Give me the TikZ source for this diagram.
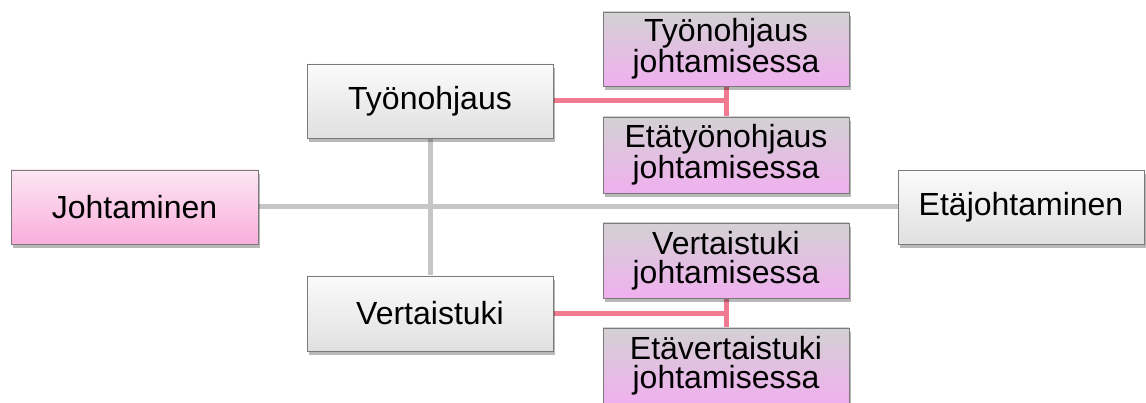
\documentclass[tikz,border=0pt]{standalone}
\usepackage{fontspec}
\setmainfont{Liberation Sans}
\usetikzlibrary{shadings,shadows,backgrounds}
\definecolor{framegray}{HTML}{7A7A7A}
\definecolor{linkgray}{HTML}{C6C6C6}
\definecolor{linkpink}{HTML}{F07A90}
\definecolor{greytop}{HTML}{FBFBFB}
\definecolor{greybot}{HTML}{E0E0E0}
\definecolor{pinktop}{HTML}{FDE6F3}
\definecolor{pinkbot}{HTML}{F9AEDB}
\definecolor{liltop}{HTML}{D3D1D3}
\definecolor{lilbot}{HTML}{F0B0EF}
\tikzset{
  box/.style={draw=framegray, line width=0.9pt, minimum width=246, minimum height=74,
    inner sep=0pt, align=center, text=black,
    font=\fontsize{32}{29}\selectfont,
    drop shadow={shadow xshift=2pt, shadow yshift=-4pt, fill=black, opacity=0.28}},
  greybox/.style={box, top color=greytop, bottom color=greybot},
  pinkbox/.style={box, top color=pinktop, bottom color=pinkbot},
  lilbox/.style={box, top color=liltop, bottom color=lilbot},
  trunk/.style={draw=linkgray, line width=5pt},
  branch/.style={draw=linkpink, line width=5pt}
}
\begin{document}
\begin{tikzpicture}[x=1pt, y=-1pt]
  \useasboundingbox (0,0) rectangle (1146,403);
  \node[pinkbox, minimum width=247] (joh) at (134.5,207) {Johtaminen};
  \node[greybox] (eta) at (1021,207) {Etäjohtaminen};
  \node[greybox] (tyo) at (430,101) {Työnohjaus};
  \node[greybox, minimum height=75] (ver) at (430,313.5) {Vertaistuki};
  \node[lilbox] (tyoj) at (726,49) {Työnohjaus\\johtamisessa};
  \node[lilbox, minimum height=76] (etyoj) at (726,155) {Etätyönohjaus\\johtamisessa};
  \node[lilbox, minimum height=75] (verj) at (726,260.5) {Vertaistuki\\johtamisessa};
  \node[lilbox, minimum height=75] (everj) at (726,365.5) {Etävertaistuki\\johtamisessa};
  \begin{scope}[on background layer]
    \draw[trunk] (joh.east) -- (eta.west);
    \draw[trunk] (tyo.south) -- (ver.north);
    \draw[branch] (tyoj.south) -- (etyoj.north);
    \draw[branch] (tyo.east) -- (tyo.east -| tyoj.south);
    \draw[branch] (verj.south) -- (everj.north);
    \draw[branch] (ver.east) -- (ver.east -| verj.south);
  \end{scope}
\end{tikzpicture}
\end{document}
